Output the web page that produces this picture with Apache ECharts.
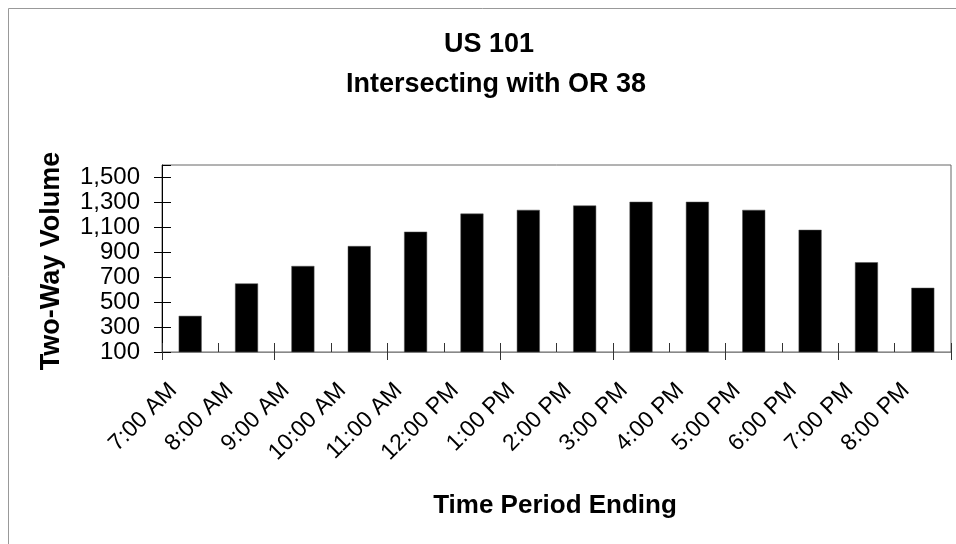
<!DOCTYPE html>
<html>
<head>
<meta charset="utf-8">
<script src="https://cdn.jsdelivr.net/npm/echarts@6/dist/echarts.min.js"></script>
<style>
  html, body { margin: 0; padding: 0; background: #fff; }
  #chart { width: 956px; height: 544px; }
</style>
</head>
<body>
<div id="chart"></div>
<script>
// 数据
const periods = ['7:00 AM', '8:00 AM', '9:00 AM', '10:00 AM', '11:00 AM', '12:00 PM', '1:00 PM',
  '2:00 PM', '3:00 PM', '4:00 PM', '5:00 PM', '6:00 PM', '7:00 PM', '8:00 PM'];
const volumes = [390, 650, 790, 950, 1065, 1210, 1240, 1275, 1305, 1305, 1240, 1080, 820, 615];
const yMin = 100;
const yMax = 1600;
const yStep = 200;

const FONT = '"Liberation Sans", Arial, sans-serif';
const chart = echarts.init(document.getElementById('chart'));

const fmt = v => Number(v).toLocaleString('en-US');

chart.setOption({
  backgroundColor: '#fff',
  animation: false,
  graphic: [{
    type: 'rect', left: 6, top: 6, silent: true, z: -10,
    shape: { width: 980, height: 580 },
    style: { fill: 'none', stroke: '#999', lineWidth: 1 },
  }, {
    type: 'text', x: 489, y: 45, silent: true,
    style: { text: 'US 101', font: 'bold 27px ' + FONT, fill: '#000', textAlign: 'center', textVerticalAlign: 'middle' },
  }, {
    type: 'text', x: 496, y: 85, silent: true,
    style: { text: 'Intersecting with OR 38', font: 'bold 27px ' + FONT, fill: '#000', textAlign: 'center', textVerticalAlign: 'middle' },
  }, {
    type: 'text', x: 555, y: 506, silent: true,
    style: { text: 'Time Period Ending', font: 'bold 26px ' + FONT, fill: '#000', textAlign: 'center', textVerticalAlign: 'middle' },
  }, {
    type: 'text', x: 52, y: 261, rotation: Math.PI / 2, silent: true,
    style: { text: 'Two-Way Volume', font: 'bold 27px ' + FONT, fill: '#000', textAlign: 'center', textVerticalAlign: 'middle' },
  }],
  grid: { left: 162, right: 5, top: 165, bottom: 192, show: true, borderColor: '#666', borderWidth: 1, backgroundColor: '#fff' },
  xAxis: [{
    type: 'category', data: periods, boundaryGap: true,
    axisLine: { lineStyle: { color: '#888', width: 1 } },
    axisTick: { show: true, inside: true, length: 9, lineStyle: { color: '#333' } },
    axisLabel: { rotate: 45, fontFamily: FONT, fontSize: 23, color: '#000', margin: 18, interval: 0, padding: [0, 24, 0, 0] },
  }, {
    type: 'category', data: periods, boundaryGap: true, position: 'bottom',
    axisLine: { show: false },
    axisTick: { show: true, inside: false, length: 8, lineStyle: { color: '#333' } },
    axisLabel: { show: false },
  }],
  yAxis: [{
    type: 'value', min: yMin, max: yMax, interval: yStep,
    axisLine: { show: true, lineStyle: { color: '#000', width: 1 } },
    axisTick: { show: true, inside: false, length: 8, lineStyle: { color: '#000' } },
    axisLabel: { fontFamily: FONT, fontSize: 24, color: '#000', margin: 22, showMaxLabel: false, formatter: fmt },
    splitLine: { show: false },
  }, {
    type: 'value', min: yMin, max: yMax, interval: yStep, position: 'left',
    axisLine: { show: false },
    axisTick: { show: true, inside: true, length: 9, lineStyle: { color: '#000' } },
    axisLabel: { show: false },
    splitLine: { show: false },
  }],
  series: [{
    type: 'bar', data: volumes, barWidth: 23,
    itemStyle: { color: '#000', borderColor: '#555', borderWidth: 0.5 },
  }],
});
</script>
</body>
</html>
